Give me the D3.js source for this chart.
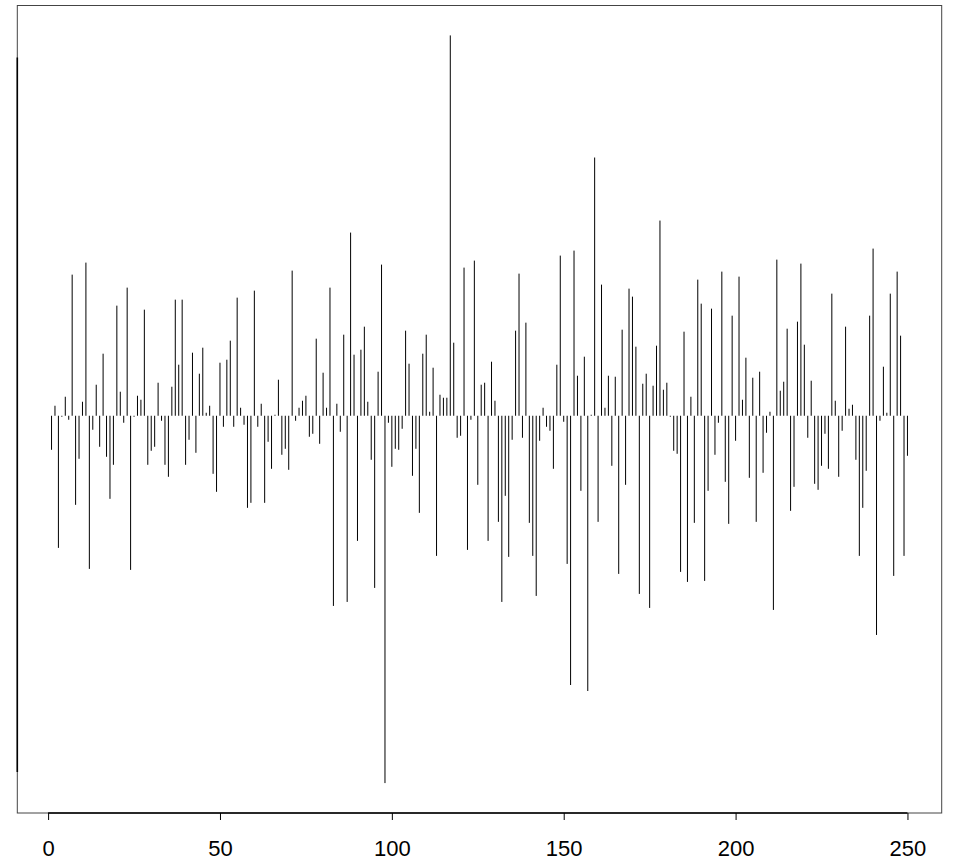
<!DOCTYPE html>
<html>
<head>
<meta charset="utf-8">
<script src="https://cdn.jsdelivr.net/npm/d3@7"></script>
<style>
  html, body { margin: 0; padding: 0; background: #fff; }
  svg { display: block; }
</style>
</head>
<body>
<div id="chart"></div>
<script>
// series values, index 1..250
const values = [
  -0.34, 0.10, -1.32, -0.01, 0.19, -0.04, 1.41, -0.89, -0.43, 0.14,
  1.53, -1.53, -0.14, 0.31, -0.31, 0.62, -0.41, -0.83, -0.49, 1.10,
  0.24, -0.07, 1.28, -1.54, -0.01, 0.20, 0.16, 1.06, -0.49, -0.35,
  -0.31, 0.33, -0.05, -0.49, -0.61, 0.29, 1.16, 0.51, 1.16, -0.49,
  -0.24, 0.63, -0.37, 0.42, 0.68, 0.03, 0.10, -0.58, -0.76, 0.53,
  -0.11, 0.56, 0.75, -0.11, 1.18, 0.08, -0.09, -0.92, -0.87, 1.25,
  -0.11, 0.12, -0.87, -0.26, -0.53, 0.01, 0.36, -0.39, -0.33, -0.54,
  1.45, -0.05, 0.08, 0.15, 0.20, -0.21, -0.18, 0.77, -0.28, 0.43,
  0.08, 1.28, -1.90, 0.12, -0.16, 0.81, -1.86, 1.83, 0.61, -1.25,
  0.66, 0.89, 0.14, -0.44, -1.72, 0.44, 1.51, -3.67, -0.07, -0.51,
  -0.33, -0.34, -0.13, 0.85, 0.52, -0.60, -0.33, -0.97, 0.62, 0.81,
  0.04, 0.48, -1.40, 0.21, 0.18, 0.18, 3.80, 0.73, -0.22, -0.20,
  1.48, -1.34, -0.04, 1.55, -0.69, 0.31, 0.33, -1.25, 0.54, 0.15,
  -1.06, -1.86, -0.80, -1.41, -0.24, 0.85, 1.42, -0.22, 0.93, -1.07,
  -1.40, -1.80, -0.25, 0.08, -0.11, -0.15, -0.53, 0.51, 1.60, -0.06,
  -1.48, -2.69, 1.65, 0.40, -0.75, 0.59, -2.75, 0.01, 2.58, -1.06,
  1.31, 0.08, 0.40, -0.50, 0.39, -1.58, 0.86, -0.69, 1.27, 1.19,
  0.69, -1.78, 0.32, 0.42, -1.92, 0.30, 0.70, 1.95, 0.26, 0.33,
  -0.01, -0.35, -0.38, -1.56, 0.84, -1.66, 0.19, -1.07, 1.36, 1.12,
  -1.65, -0.75, 1.07, -0.39, -0.07, 1.44, -0.66, -1.08, 1.00, -0.25,
  1.39, 0.16, 0.58, -0.62, 0.38, -1.06, 0.44, -0.57, -0.17, 0.04,
  -1.94, 1.56, 0.25, 0.34, 0.87, -0.95, -0.71, 0.94, 1.52, 0.71,
  -0.22, 0.35, -0.68, -0.74, -0.50, -0.18, -0.53, 1.22, 0.15, -0.61,
  -0.15, 0.89, 0.07, 0.11, -0.44, -1.40, -0.92, -0.55, 1.00, 1.67,
  -2.19, -0.05, 0.49, 0.03, 1.22, -1.60, 1.44, 0.80, -1.40, -0.40
];
const xTicks = [0, 50, 100, 150, 200, 250];
const yAxisRange = [-3.56, 3.58];

const width = 953, height = 863;
const margin = { left: 17.3, right: 11.3, top: 5.5, bottom: 50.0 };
const plotW = width - margin.left - margin.right;
const plotH = height - margin.top - margin.bottom;

const data = values.map((v, i) => ({ i: i + 1, v }));

// R style 4% expansion of the data range
const xExt = [1, values.length];
const xPad = (xExt[1] - xExt[0]) * 0.04;
const yExt = d3.extent(values);
const yPad = (yExt[1] - yExt[0]) * 0.04;

const x = d3.scaleLinear()
  .domain([xExt[0] - xPad, xExt[1] + xPad])
  .range([0, plotW]);
const y = d3.scaleLinear()
  .domain([yExt[0] - yPad, yExt[1] + yPad])
  .range([plotH, 0]);

const svg = d3.select("#chart").append("svg")
  .attr("width", width)
  .attr("height", height);

const graph = svg.append("g")
  .attr("transform", `translate(${margin.left}, ${margin.top})`);

// spikes
graph.selectAll("line.spike")
  .data(data)
  .enter()
  .append("line")
  .attr("class", "spike")
  .attr("x1", d => x(d.i))
  .attr("x2", d => x(d.i))
  .attr("y1", y(0))
  .attr("y2", d => y(d.v))
  .attr("stroke", "#000")
  .attr("stroke-width", 1);

// box
graph.append("rect")
  .attr("x", 0)
  .attr("y", 0)
  .attr("width", plotW)
  .attr("height", plotH)
  .attr("fill", "none")
  .attr("stroke", "#444")
  .attr("stroke-width", 1);

// left axis line, no ticks or labels
graph.append("line")
  .attr("x1", 0).attr("x2", 0)
  .attr("y1", y(yAxisRange[0]))
  .attr("y2", y(yAxisRange[1]))
  .attr("stroke", "#000")
  .attr("stroke-width", 1.6);

// bottom axis
const xAxisGroup = graph.append("g")
  .attr("transform", `translate(0, ${plotH})`);
const xAxis = d3.axisBottom(x)
  .tickValues(xTicks)
  .tickSize(7)
  .tickSizeOuter(0)
  .tickFormat(d3.format("d"));
xAxisGroup.call(xAxis);
xAxisGroup.select(".domain").remove();
xAxisGroup.append("line")
  .attr("x1", x(xTicks[0]))
  .attr("x2", x(xTicks[xTicks.length - 1]))
  .attr("stroke", "#000")
  .attr("stroke-width", 1.6);
xAxisGroup.selectAll(".tick line")
  .attr("stroke", "#000")
  .attr("stroke-width", 1);
xAxisGroup.selectAll("text")
  .attr("y", 43.3)
  .attr("dy", 0)
  .attr("fill", "#000")
  .style("font-family", "'Liberation Sans', Arial, Helvetica, sans-serif")
  .style("font-size", "22px");
</script>
</body>
</html>
